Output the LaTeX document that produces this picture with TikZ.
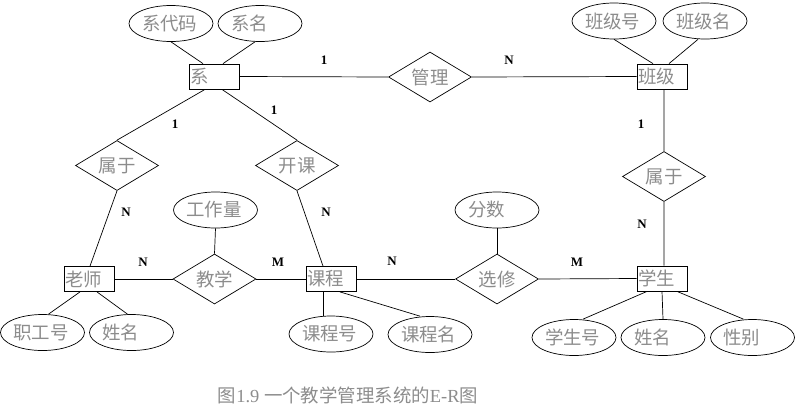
\documentclass[tikz,border=0pt]{standalone}
\usepackage{fontspec}
\setmainfont{Liberation Serif}
\newfontfamily\cjk{Noto Sans CJK SC}
\usepackage{xcolor}
\usepackage{tikz}
\usetikzlibrary{shapes.geometric}
\definecolor{txtgray}{RGB}{140,140,140}

\begin{document}
\begin{tikzpicture}[x=1bp, y=-1bp,
        entity/.style={draw, rectangle, line width=0.8bp, minimum height=25bp, text width=48bp, inner xsep=1bp, inner ysep=0pt, align=left, text=txtgray, font=\cjk\fontsize{18.5}{20}\selectfont},
        attr/.style={draw, ellipse, line width=0.7bp, minimum width=84bp, minimum height=36bp, text width=58bp, inner sep=0pt, align=left, text=txtgray, font=\cjk\fontsize{18.5}{20}\selectfont},
        rel/.style={draw, diamond, line width=0.7bp, minimum width=83bp, minimum height=50bp, aspect=1.66, inner sep=0pt, text=txtgray, font=\cjk\fontsize{18.5}{20}\selectfont},
        card/.style={font=\bfseries\fontsize{13}{14}\selectfont, inner sep=0pt},
        line/.style={line width=0.7bp}
    ]
        \useasboundingbox (0,0) rectangle (795,418);
        % entities
        \node (xi) [entity] at (214,76.5) {系};
        \node (bj) [entity] at (662,76.5) {班级};
        \node (ls) [entity] at (89,279) {老师};
        \node (kc) [entity] at (331,279) {课程};
        \node (xs) [entity] at (662,278.5) {学生};
        % relations
        \node (gl) [rel] at (430,77) {管理};
        \node (sy1) [rel] at (117,165.5) {属于};
        \node (kk) [rel] at (297,165.5) {开课};
        \node (jx) [rel] at (214.5,279) {教学};
        \node (xx) [rel] at (497,279) {选修};
        \node (sy2) [rel] at (664,176.5) {属于};
        % attributes
        \node (xdm) [attr] at (171,23.5) {系代码};
        \node (xm) [attr] at (260,23.5) {系名};
        \node (bjh) [attr] at (614,21) {班级号};
        \node (bjm) [attr] at (705,21) {班级名};
        \node (gzl) [attr] at (215.5,210) {工作量};
        \node (zgh) [attr] at (42.5,332.5) {职工号};
        \node (lxm) [attr] at (131.5,332.5) {姓名};
        \node (kch) [attr] at (331,334) {课程号};
        \node (kcm) [attr] at (430,334.5) {课程名};
        \node (fs) [attr] at (497,210) {分数};
        \node (xsh) [attr] at (574,337.5) {学生号};
        \node (sxm) [attr] at (663,337.5) {姓名};
        \node (xb) [attr] at (752.5,337.5) {性别};
        % connectors
        \draw [line] ([xshift=-11bp]xi.north) -- (xdm.south);
        \draw [line] ([xshift=9bp]xi.north) -- ([xshift=-5bp]xm.south);
        \draw [line] ([xshift=-9bp]bj.north) -- (bjh.south);
        \draw [line] ([xshift=7bp]bj.north) -- ([xshift=-7bp]bjm.south);
        \draw [line] (xi.east) -- (gl.west);
        \draw [line] (gl.east) -- (bj.west);
        \draw [line] ([xshift=-9bp]xi.south) -- (sy1.north);
        \draw [line] ([xshift=8bp]xi.south) -- (kk.north);
        \draw [line] (sy1.south) -- ([xshift=1bp]ls.north);
        \draw [line] (kk.south) -- ([xshift=-8bp]kc.north);
        \draw [line] (ls.east) -- (jx.west);
        \draw [line] (jx.east) -- (kc.west);
        \draw [line] (gzl.south) -- (jx.north);
        \draw [line] ([xshift=-9bp]ls.south) -- ([xshift=6bp]zgh.north);
        \draw [line] ([xshift=8bp]ls.south) -- ([xshift=-4bp]lxm.north);
        \draw [line] ([xshift=-8bp]kc.south) -- ([xshift=-8bp]kch.north);
        \draw [line] ([xshift=9bp]kc.south) -- ([xshift=-10bp]kcm.north);
        \draw [line] (kc.east) -- (xx.west);
        \draw [line] (xx.east) -- (xs.west);
        \draw [line] (fs.south) -- (xx.north);
        \draw [line] ([xshift=2bp]bj.south) -- (sy2.north);
        \draw [line] (sy2.south) -- ([xshift=2bp]xs.north);
        \draw [line] ([xshift=-15bp]xs.south) -- ([xshift=9bp]xsh.north);
        \draw [line] (xs.south) -- (sxm.north);
        \draw [line] ([xshift=15bp]xs.south) -- ([xshift=-9bp]xb.north);
        % cardinalities
        \node (c1) [card] at (324,60) {1};
        \node (c2) [card] at (509,60) {N};
        \node (c3) [card] at (175,124) {1};
        \node (c4) [card] at (274,110) {1};
        \node (c5) [card] at (126,212) {N};
        \node (c6) [card] at (326,212) {N};
        \node (c7) [card] at (143,262) {N};
        \node (c8) [card] at (278,262) {M};
        \node (c9) [card] at (392,261) {N};
        \node (c10) [card] at (577,262) {M};
        \node (c11) [card] at (641,124) {1};
        \node (c12) [card] at (642,224) {N};
        % caption
        \node (cap) [text=txtgray, font=\fontsize{18.5}{20}\selectfont] at (348,395) {{\cjk 图}1.9 {\cjk 一个教学管理系统的}E-R{\cjk 图}};
    \end{tikzpicture}
\end{document}
